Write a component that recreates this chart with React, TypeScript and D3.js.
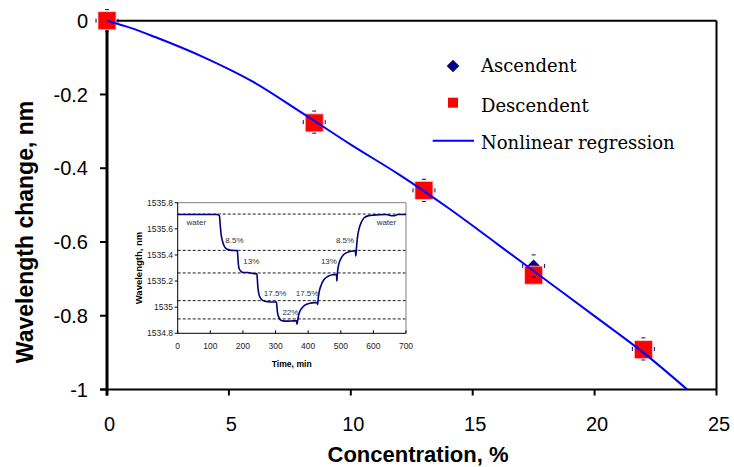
import * as d3 from 'd3';

// main chart: concentration (%) vs wavelength change (nm)
const concentrations = [0, 8.5, 13, 17.5, 22];
const ascendent = [0, -0.275, -0.46, -0.665, -0.89];
const descendent = [0, -0.277, -0.46, -0.69, -0.892];
const errX = 0.45;
const errY = 0.03;

// fitted curve
const fitConc = [0, 1, 2, 4, 6, 8, 10, 12, 14, 16, 18, 20, 22, 23.8];
const fitVal = [0, -0.02, -0.045, -0.1, -0.166, -0.25, -0.336, -0.418, -0.508, -0.605, -0.703, -0.801, -0.9, -1.0];

const xTicks = [0, 5, 10, 15, 20, 25];
const yTicks = [0, -0.2, -0.4, -0.6, -0.8, -1];

// inset: sensor wavelength against time
const insetTime = [0, 60, 120, 128, 130, 133, 137, 142, 150, 165, 183, 184, 186, 189, 194, 200, 215, 230, 243, 244, 246, 249, 254, 262, 275, 290, 303, 304, 306, 309, 314, 322, 340, 355, 364, 366, 368, 370, 374, 380, 390, 405, 420, 428, 429, 431, 434, 440, 448, 460, 475, 487, 488, 489, 491, 494, 500, 510, 525, 540, 545, 546, 548, 551, 556, 563, 572, 585, 600, 640, 655, 665, 675, 700];
const insetWl = [1535.71, 1535.71, 1535.71, 1535.7, 1535.64, 1535.56, 1535.51, 1535.47, 1535.445, 1535.435, 1535.433, 1535.4, 1535.33, 1535.29, 1535.275, 1535.265, 1535.265, 1535.258, 1535.255, 1535.22, 1535.15, 1535.1, 1535.07, 1535.05, 1535.042, 1535.04, 1535.04, 1535.01, 1534.96, 1534.93, 1534.905, 1534.895, 1534.893, 1534.895, 1534.895, 1534.87, 1534.9, 1534.93, 1534.965, 1534.99, 1535.015, 1535.03, 1535.035, 1535.035, 1535.02, 1535.07, 1535.12, 1535.17, 1535.21, 1535.235, 1535.248, 1535.25, 1535.2, 1535.24, 1535.29, 1535.33, 1535.37, 1535.405, 1535.425, 1535.43, 1535.43, 1535.39, 1535.45, 1535.53, 1535.6, 1535.65, 1535.685, 1535.7, 1535.705, 1535.71, 1535.7, 1535.7, 1535.71, 1535.71];
const insetLevels = [1535.713, 1535.435, 1535.262, 1535.05, 1534.91];
const insetLabels = ['water', '8.5%', '13%', '17.5%', '22%', '17.5%', '13%', '8.5%', 'water'];
const insetLabelTime = [27, 146, 201, 264, 321, 362, 439, 485, 610];
const insetLabelWl = [1535.65, 1535.51, 1535.35, 1535.106, 1534.958, 1535.106, 1535.35, 1535.51, 1535.65];
const insetXTicks = [0, 100, 200, 300, 400, 500, 600, 700];
const insetYTicks = [1534.8, 1535, 1535.2, 1535.4, 1535.6, 1535.8];

const SANS = '"Liberation Sans", Arial, sans-serif';
const SERIF = '"DejaVu Serif", serif';

export default function App() {
  const x = d3.scaleLinear().domain([0, 25]).range([107, 716.5]);
  const y = d3.scaleLinear().domain([-1, 0]).range([389.5, 20.7]);

  const fitLine = d3.line<number>()
    .x((d, i) => x(fitConc[i]))
    .y(d => y(d))
    .curve(d3.curveMonotoneX);

  const ix = d3.scaleLinear().domain([0, 700]).range([177.7, 406]);
  const iy = d3.scaleLinear().domain([1534.8, 1535.8]).range([333.3, 202.7]);
  const insetLine = d3.line<number>()
    .x((d, i) => ix(insetTime[i]))
    .y(d => iy(d))
    .curve(d3.curveMonotoneX);

  const diamond = (r: number) => `M0,${-r}L${r},0L0,${r}L${-r},0Z`;

  return (
    <svg width={734} height={467} style={{ position: 'absolute', left: 0, top: 0, background: '#fff' }}>
      {/* frame */}
      <line x1={x(0)} x2={x(25)} y1={y(0)} y2={y(0)} stroke="#000" strokeWidth={2} />
      <line x1={x(25)} x2={x(25)} y1={y(0)} y2={y(-1)} stroke="#000" strokeWidth={2} />
      <line x1={x(0) - 7} x2={x(25)} y1={y(-1)} y2={y(-1)} stroke="#000" strokeWidth={2} />
      <line x1={x(0)} x2={x(0)} y1={y(0)} y2={y(-1) + 6} stroke="#000" strokeWidth={3} />

      {yTicks.map(t => (
        <g key={'y' + t}>
          <line x1={x(0) - 7} x2={x(0)} y1={y(t)} y2={y(t)} stroke="#000" strokeWidth={2} />
          <text x={88} y={y(t)} dy="0.36em" textAnchor="end" fontFamily={SANS} fontSize={20}>{t}</text>
        </g>
      ))}
      {xTicks.map(t => (
        <g key={'x' + t}>
          <line x1={x(t)} x2={x(t)} y1={y(-1)} y2={y(-1) + 6} stroke="#000" strokeWidth={2} />
          <text x={x(t) + 2.5} y={431} textAnchor="middle" fontFamily={SANS} fontSize={20}>{t}</text>
        </g>
      ))}

      <text x={418} y={462} textAnchor="middle" fontFamily={SANS} fontSize={22} fontWeight="bold">Concentration, %</text>
      <text transform="translate(33,232) rotate(-90)" textAnchor="middle" fontFamily={SANS} fontSize={23} fontWeight="bold">Wavelength change, nm</text>

      {/* inset */}
      <g>
        {insetLevels.map(v => (
          <line key={'lv' + v} x1={ix(0)} x2={ix(700)} y1={iy(v)} y2={iy(v)} stroke="#000" strokeWidth={0.9} strokeDasharray="3,2" />
        ))}
        <line x1={ix(0)} x2={ix(700)} y1={iy(1535.8)} y2={iy(1535.8)} stroke="#808080" strokeWidth={1} />
        <line x1={ix(700)} x2={ix(700)} y1={iy(1535.8)} y2={iy(1534.8)} stroke="#808080" strokeWidth={1} />
        <line x1={ix(0)} x2={ix(700)} y1={iy(1534.8)} y2={iy(1534.8)} stroke="#000" strokeWidth={1} />
        <line x1={ix(0)} x2={ix(0)} y1={iy(1535.8)} y2={iy(1534.8)} stroke="#000" strokeWidth={1} />
        {insetYTicks.map(t => (
          <g key={'iy' + t}>
            <line x1={ix(0) - 3} x2={ix(0)} y1={iy(t)} y2={iy(t)} stroke="#000" strokeWidth={1} />
            <text x={173} y={iy(t)} dy="0.36em" textAnchor="end" fontFamily={SANS} fontSize={8.5} fill="#222">{t}</text>
          </g>
        ))}
        {insetXTicks.map(t => (
          <g key={'ix' + t}>
            <line x1={ix(t)} x2={ix(t)} y1={iy(1534.8)} y2={iy(1534.8) - 3} stroke="#000" strokeWidth={1} />
            <text x={ix(t)} y={348.5} textAnchor="middle" fontFamily={SANS} fontSize={8.5} fill="#222">{t}</text>
          </g>
        ))}
        <text x={291.7} y={367} textAnchor="middle" fontFamily={SANS} fontSize={8.6} fontWeight="bold">Time, min</text>
        <text transform="translate(142,268) rotate(-90)" textAnchor="middle" fontFamily={SANS} fontSize={9.5} fontWeight="bold">Wavelength, nm</text>
        {insetLabels.map((l, i) => (
          <text key={'il' + i} x={ix(insetLabelTime[i])} y={iy(insetLabelWl[i])} dy="0.35em" fontFamily={SANS} fontSize={8} fill="#333">{l}</text>
        ))}
        <path d={insetLine(insetWl) || ''} fill="none" stroke="#000080" strokeWidth={1.6} />
      </g>

      {/* markers */}
      {concentrations.map((c, i) => (
        <path key={'a' + c} d={diamond(6.5)} transform={`translate(${x(c)},${y(ascendent[i])})`} fill="#000080" />
      ))}
      {concentrations.map((c, i) => (
        <rect key={'d' + c} x={x(c) - 9} y={y(descendent[i]) - 9} width={18} height={18} fill="#ff0000" stroke="#ffc8c8" strokeWidth={0.8} />
      ))}
      {concentrations.map((c, i) => (
        <g key={'e' + c} stroke="#000080" strokeWidth={1}>
          <line x1={x(c) - 2} x2={x(c) + 2} y1={y(ascendent[i] + errY)} y2={y(ascendent[i] + errY)} />
          <line x1={x(c) - 2} x2={x(c) + 2} y1={y(ascendent[i] - errY)} y2={y(ascendent[i] - errY)} />
          <line x1={x(c - errX)} x2={x(c - errX)} y1={y(ascendent[i]) - 2} y2={y(ascendent[i]) + 2} />
          <line x1={x(c + errX)} x2={x(c + errX)} y1={y(ascendent[i]) - 2} y2={y(ascendent[i]) + 2} />
        </g>
      ))}
      <path d={fitLine(fitVal) || ''} fill="none" stroke="#0000ff" strokeWidth={2} />

      {/* legend */}
      <path d={diamond(6.3)} transform="translate(453,66)" fill="#000080" />
      <text x={481} y={72} fontFamily={SERIF} fontSize={18}>Ascendent</text>
      <rect x={448} y={97.7} width={10} height={10} fill="#ff0000" />
      <text x={481} y={111.5} fontFamily={SERIF} fontSize={18}>Descendent</text>
      <line x1={432.7} x2={474} y1={140.7} y2={140.7} stroke="#0000ff" strokeWidth={2} />
      <text x={481} y={149} fontFamily={SERIF} fontSize={18}>Nonlinear regression</text>
    </svg>
  );
}
